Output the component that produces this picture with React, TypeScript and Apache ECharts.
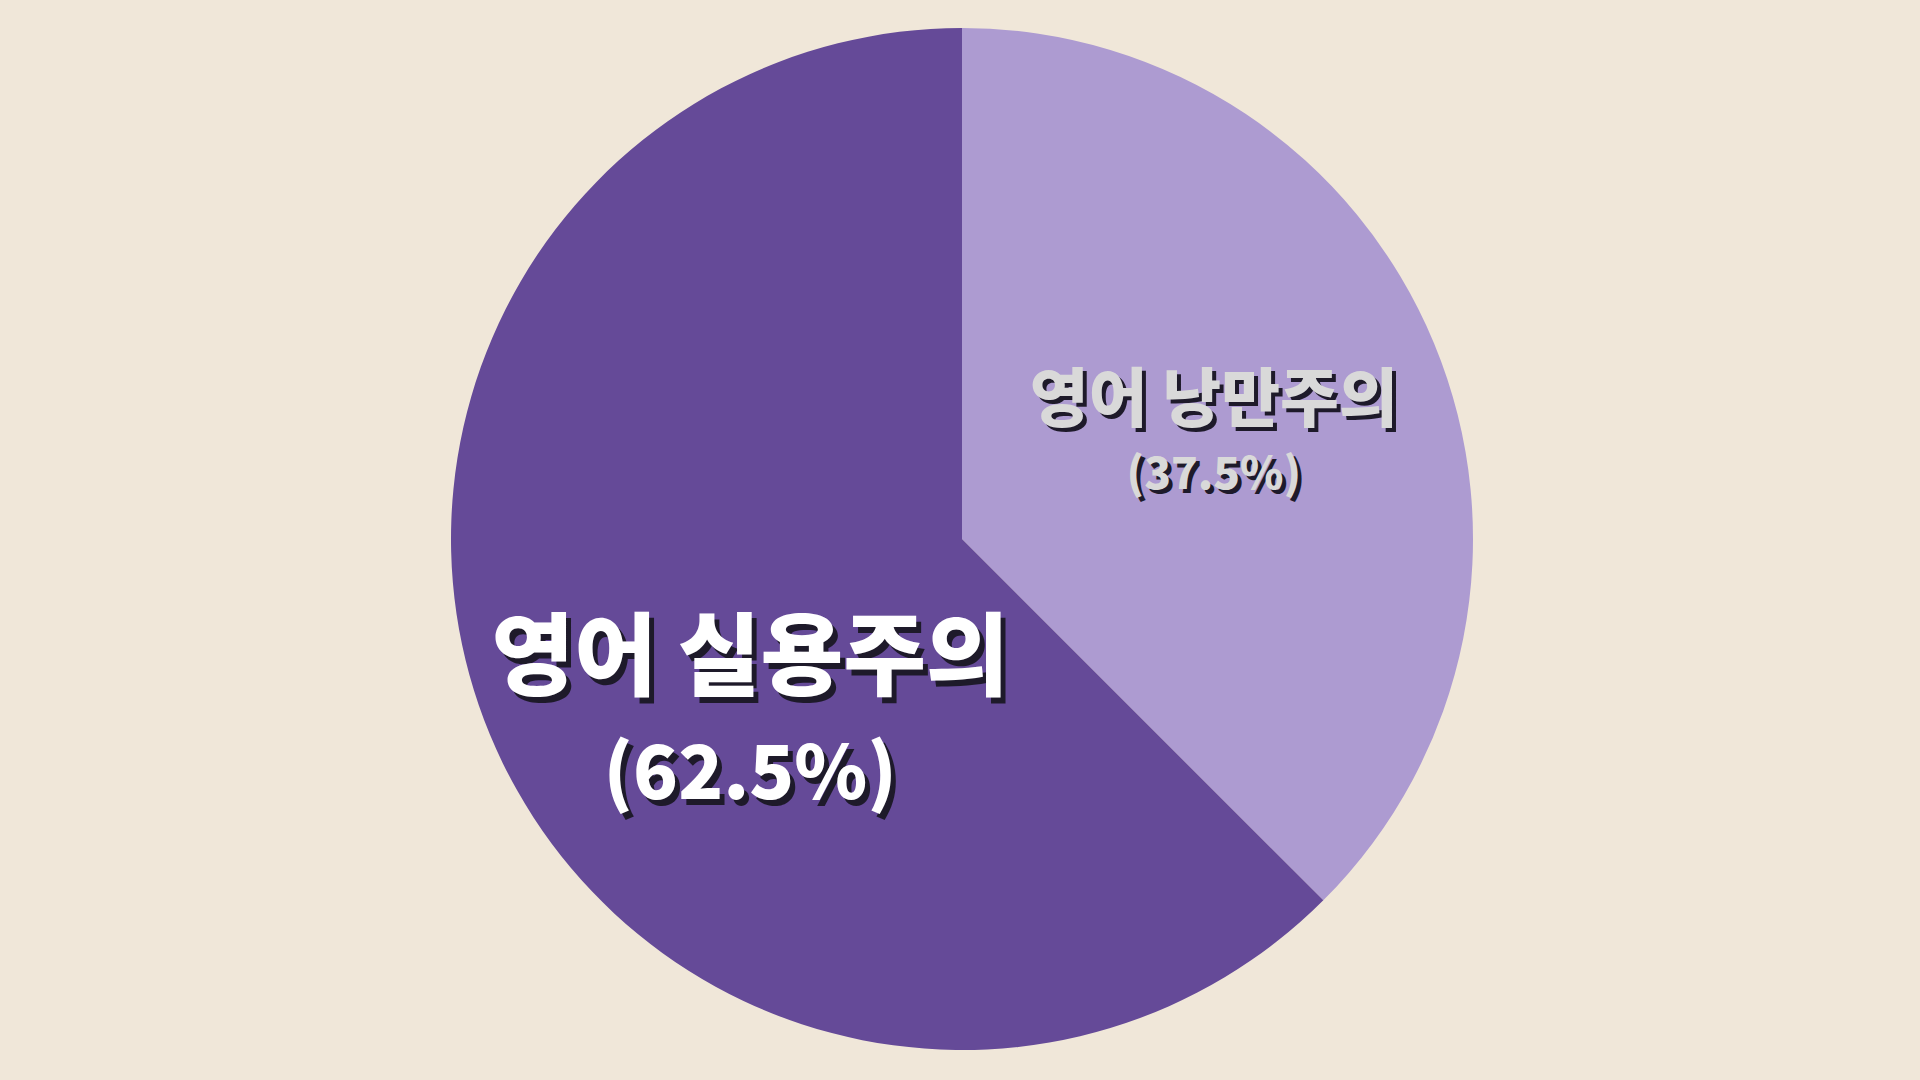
import React, { useEffect, useRef } from "react";
import * as echarts from "echarts";

const categories = ["영어 낭만주의", "영어 실용주의"];
const shares = [37.5, 62.5];
const sliceColors = ["#AD9BD1", "#654A98"];
const textColors = ["#D9D9D9", "#FFFFFF"];
const shadowColor = "#1E1A2A";

const CENTER = [962, 539];
const RADIUS = 511;
const FONT = "Noto Sans CJK KR";

// label layout per slice: offset, name size, value size, line height, shadow shift
const labelLayout = [
  { offset: [13, -9], nameSize: 64, valueSize: 44, lineHeight: 77, shift: [4, 4] },
  { offset: [27, 70], nameSize: 90, valueSize: 74, lineHeight: 117, shift: [5, 6] },
];

function buildLabel(i: number, color: string, dx: number, dy: number) {
  const l = labelLayout[i];
  const common = { fontFamily: FONT, fontWeight: 900, color, lineHeight: l.lineHeight };
  return {
    show: true,
    position: "inside",
    offset: [l.offset[0] + dx, l.offset[1] + dy],
    fontFamily: FONT,
    fontWeight: 900,
    color,
    formatter: (p: any) => `{a|${p.name}}\n{b|(${p.value}%)}`,
    rich: {
      a: { ...common, fontSize: l.nameSize },
      b: { ...common, fontSize: l.valueSize },
    },
  };
}

export default function App() {
  const ref = useRef<HTMLDivElement>(null);

  useEffect(() => {
    if (!ref.current) return;
    const chart = echarts.init(ref.current, null, { renderer: "svg" });

    const pieBase = {
      type: "pie",
      center: CENTER,
      radius: [0, RADIUS],
      startAngle: 90,
      clockwise: true,
      avoidLabelOverlap: false,
      labelLayout: { hideOverlap: false },
      labelLine: { show: false },
      emphasis: { disabled: true },
      silent: true,
    };

    chart.setOption({
      animation: false,
      backgroundColor: "#F0E7D9",
      series: [
        // coloured slices, carrying the dark drop shadow of each label
        {
          ...pieBase,
          z: 1,
          data: categories.map((name, i) => ({
            name,
            value: shares[i],
            itemStyle: { color: sliceColors[i] },
            label: buildLabel(i, shadowColor, labelLayout[i].shift[0], labelLayout[i].shift[1]),
          })),
        },
        // label text on top
        {
          ...pieBase,
          z: 2,
          data: categories.map((name, i) => ({
            name,
            value: shares[i],
            itemStyle: { color: "rgba(0,0,0,0)" },
            label: buildLabel(i, textColors[i], 0, 0),
          })),
        },
      ],
    });

    return () => chart.dispose();
  }, []);

  return (
    <div
      ref={ref}
      style={{ position: "fixed", left: 0, top: 0, width: 1920, height: 1080 }}
    />
  );
}
